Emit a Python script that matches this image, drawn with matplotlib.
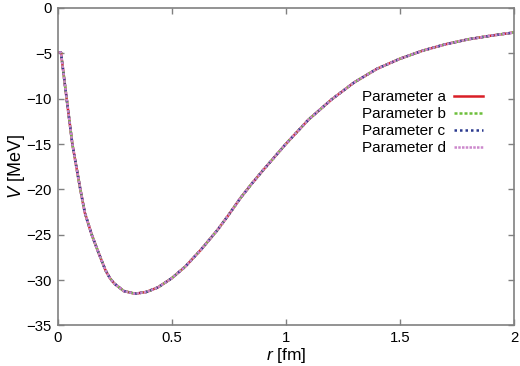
import matplotlib
matplotlib.use("Agg")
import matplotlib.pyplot as plt

plt.rcParams['font.family'] = ['Liberation Sans', 'DejaVu Sans']
plt.rcParams['mathtext.fontset'] = 'custom'
plt.rcParams['mathtext.rm'] = 'Liberation Sans'
plt.rcParams['mathtext.it'] = 'Liberation Sans:italic'

# values (all four parameter sets lie on top of each other)
r_fm = [0.007, 0.015, 0.04, 0.065, 0.10, 0.12, 0.15, 0.18, 0.21, 0.23, 0.25,
        0.29, 0.34, 0.39, 0.44, 0.50, 0.56, 0.63, 0.70, 0.75, 0.80, 0.85,
        0.90, 1.00, 1.10, 1.20, 1.30, 1.40, 1.50, 1.60, 1.70, 1.80, 1.90, 2.00]
v_a = [-4.9, -4.9, -10.0, -15.0, -20.0, -22.6, -25.0, -27.0, -28.9, -29.8, -30.4,
       -31.2, -31.5, -31.3, -30.8, -29.8, -28.5, -26.6, -24.5, -22.8, -21.0, -19.4,
       -17.9, -15.0, -12.3, -10.1, -8.2, -6.7, -5.6, -4.7, -4.0, -3.45, -3.05, -2.7]
v_b = list(v_a)
v_c = list(v_a)
v_d = list(v_a)

labels = ['Parameter a', 'Parameter b', 'Parameter c', 'Parameter d']
colors = ['#d91e26', '#6cbf3a', '#2b3a8f', '#cc88cc']
styles = ['-', (0, (1.2, 0.8)), (0, (1, 1.2)), (0, (1, 0.5))]

fig = plt.figure(figsize=(5.2, 3.66), dpi=100)
ax = fig.add_axes([0.1106, 0.1107, 0.8779, 0.8675])

for v, lab, col, ls in zip([v_a, v_b, v_c, v_d], labels, colors, styles):
    ax.plot(r_fm, v, color=col, linestyle=ls, linewidth=1.8, label=lab)

ax.set_xlim(0, 2)
ax.set_ylim(-35, 0)
ax.set_xticks([0, 0.5, 1, 1.5, 2])
ax.set_xticklabels(['0', '0.5', '1', '1.5', '2'])
ax.set_yticks([0, -5, -10, -15, -20, -25, -30, -35])

for s in ax.spines.values():
    s.set_color('#808080')
    s.set_linewidth(1.2)
ax.tick_params(direction='in', length=4, width=1, color='#808080',
               top=True, right=True, labelsize=10.7, pad=4)

ax.set_xlabel(r'$r$ [fm]', fontsize=12.5, labelpad=1)
ax.set_ylabel(r'$V$ [MeV]', fontsize=13, labelpad=0)

ax.legend(loc='center right', bbox_to_anchor=(0.932, 0.638), frameon=False,
          markerfirst=False, fontsize=11, handlelength=1.9, handletextpad=0.55,
          labelspacing=0.2, borderpad=0, borderaxespad=0)

fig.savefig('out.png', dpi=100)
